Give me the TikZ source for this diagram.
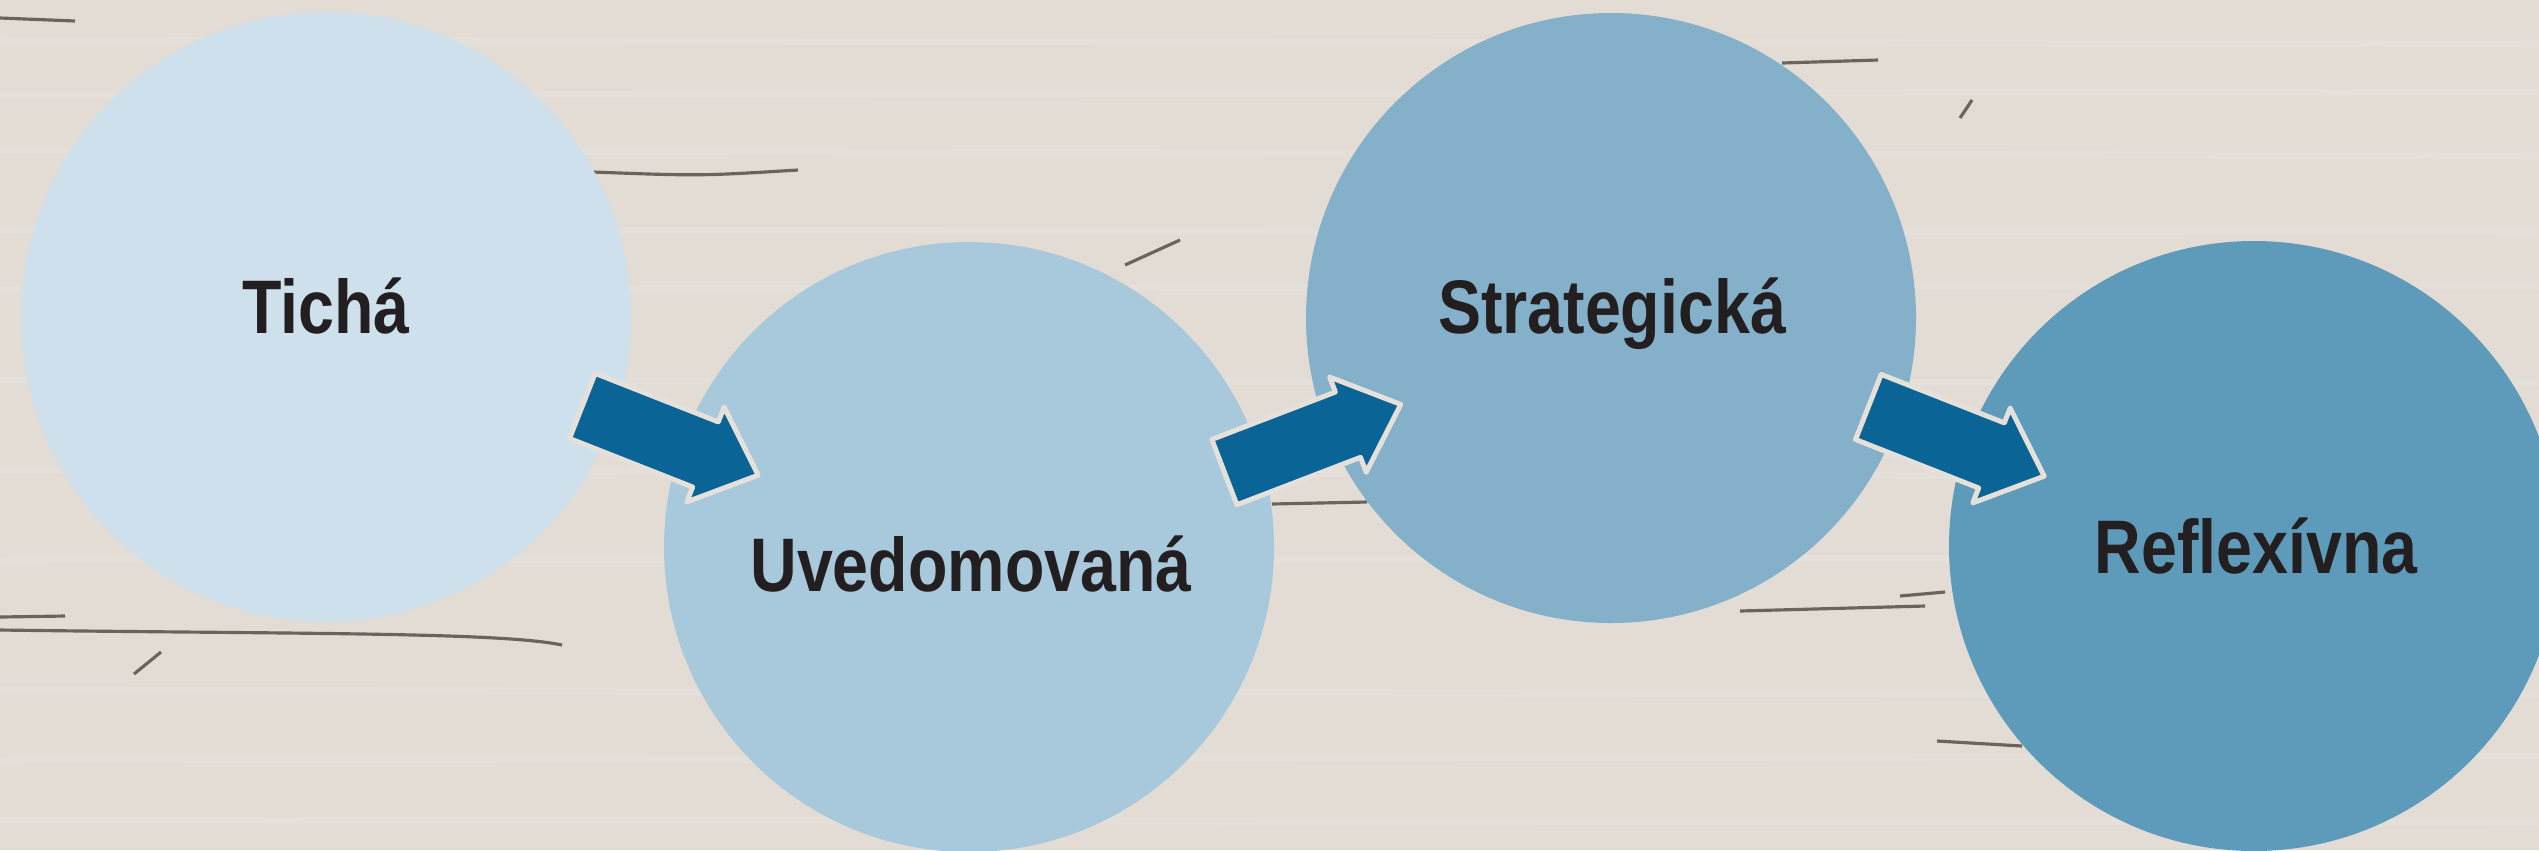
\documentclass[tikz,border=0pt]{standalone}
\usepackage{fontspec}
\newfontfamily\stagefont{Liberation Sans}
\usetikzlibrary{shapes.arrows,calc}

\definecolor{wood}{HTML}{E2DCD5}
\definecolor{woodlight}{HTML}{E8E3DD}
\definecolor{grain}{HTML}{4E4640}
\definecolor{stageA}{HTML}{CDE0EB}
\definecolor{stageB}{HTML}{A8C8DC}
\definecolor{stageC}{HTML}{84B0CA}
\definecolor{stageD}{HTML}{5E9AB9}
\definecolor{arrowblue}{HTML}{0A6496}
\definecolor{arrowrim}{HTML}{E6E0DA}
\definecolor{ink}{HTML}{231F20}

\tikzset{
  stage/.style={circle, inner sep=0pt, minimum size=61mm},
  stagelabel/.style={anchor=base, text=ink, xscale=0.85,
    font=\stagefont\bfseries\fontsize{21.6pt}{26pt}\selectfont},
  flow/.style={single arrow, fill=arrowblue, draw=arrowrim, line width=0.5mm,
    line join=round, inner xsep=0pt, inner ysep=3.25mm, anchor=tail,
    single arrow head extend=1.6mm, single arrow tip angle=84,
    minimum height=18.9mm},
  grainline/.style={draw=grain, line width=0.9pt, opacity=0.8},
  streak/.style={draw=woodlight, line width=2pt, opacity=0.45},
}

\begin{document}
\begin{tikzpicture}[x=0.1mm, y=-0.1mm]
  % Board
  \fill[wood] (0,0) rectangle (2539,850);
  \useasboundingbox (0,0) rectangle (2539,850);
  % Light streaks in the wood
  \foreach \y/\d in {40/4,95/-3,150/6,230/2,290/-5,380/3,470/7,560/-2,690/5,760/-4,820/2}
    \draw[streak] (0,\y) -- (2539,\y+\d);
  % Grain lines and cracks
  \draw[grainline] (0,18) -- (75,21);
  \draw[grainline] (593,172) .. controls (700,176) .. (798,170);
  \draw[grainline] (0,630) .. controls (300,634) and (500,632) .. (562,645);
  \draw[grainline] (0,617) -- (65,616);
  \draw[grainline] (134,674) -- (161,652);
  \draw[grainline] (1782,63) -- (1878,60);
  \draw[grainline] (1272,504) -- (1367,502);
  \draw[grainline] (1740,611) -- (1925,606);
  \draw[grainline] (1900,596) -- (1945,592);
  \draw[grainline] (1937,741) -- (2022,746);
  \draw[grainline] (1960,118) -- (1972,100);
  \draw[grainline] (1125,265) -- (1180,240);
  % Stages
  \node[stage, fill=stageA] (ticha) at (326,317) {};
  \node[stage, fill=stageB] (uvedomovana) at (969,547) {};
  \node[stage, fill=stageC] (strategicka) at (1611,318) {};
  \node[stage, fill=stageD] (reflexivna) at (2254,546) {};
  % Stage names (placed on the baseline)
  \node[stagelabel] (tichaText) at (326,333) {Tichá};
  \node[stagelabel] (uvedomovanaText) at (971,591) {Uvedomovaná};
  \node[stagelabel] (strategickaText) at (1612,333) {Strategická};
  \node[stagelabel] (reflexivnaText) at (2256,573) {Reflexívna};
  % Arrows between the stages, set by their tails
  \node[flow, rotate=-21.5] (stepA) at ($(ticha.center)+(254,88)$) {};
  \node[flow, rotate=21] (stepB) at ($(uvedomovana.center)+(253,-74)$) {};
  \node[flow, rotate=-21.5] (stepC) at ($(strategicka.center)+(255,88)$) {};
\end{tikzpicture}
\end{document}
